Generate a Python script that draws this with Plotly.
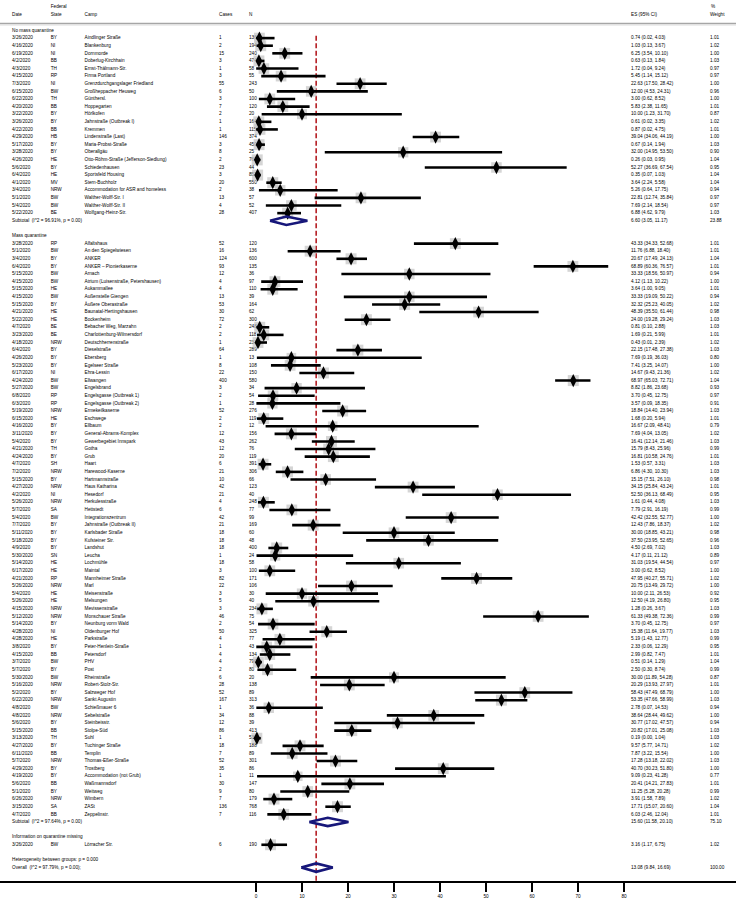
import plotly.graph_objects as go

# ---------------- data ----------------
group_titles = ["No mass quarantine", "Mass quarantine", "Information on quarantine missing"]

dates1 = ["3/26/2020", "4/16/2020", "6/19/2020", "4/2/2020", "4/3/2020", "4/15/2020", "7/3/2020", "6/15/2020",
          "6/22/2020", "4/20/2020", "3/22/2020", "3/26/2020", "4/22/2020", "4/29/2020", "5/17/2020", "3/28/2020",
          "4/26/2020", "5/6/2020", "6/4/2020", "4/1/2020", "3/4/2020", "5/1/2020", "5/4/2020", "5/22/2020"]
states1 = ["BY", "NI", "NI", "BB", "TH", "RP", "NI", "BW", "TH", "BB", "BY", "BY", "BB", "HB", "BY", "BY",
           "HE", "BY", "HE", "MV", "NRW", "BW", "BW", "BE"]
camps1 = ["Aindlinger Straße", "Blankenburg", "Dornmorde", "Doberlug-Kirchhain", "Ernst-Thälmann-Str.",
          "Firma Portland", "Grenzdurchgangslager Friedland", "Großheppacher Heuweg", "Günthersl.",
          "Hoppegarten", "Hörlkofen", "Jahnstraße (Outbreak I)", "Kremmen", "Lindenstraße (Last)",
          "Maria-Probst-Straße", "Oberallgäu", "Otto-Röhm-Straße (Jefferson-Siedlung)", "Schiedenhausen",
          "Sportsfeld Housing", "Stern-Buchholz", "Accommodation for ASR and homeless", "Walther-Wolff-Str. I",
          "Walther-Wolff-Str. II", "Wolfgang-Heinz-Str."]
cases1 = [1, 2, 15, 3, 1, 3, 55, 6, 3, 7, 2, 1, 1, 146, 3, 8, 2, 23, 3, 20, 2, 13, 4, 28]
n1 = [136, 194, 240, 474, 58, 55, 243, 50, 100, 120, 20, 164, 115, 374, 450, 25, 767, 44, 857, 550, 38, 57, 52, 407]
es1 = [0.74, 1.03, 6.25, 0.63, 1.72, 5.45, 22.63, 12.00, 3.00, 5.83, 10.00, 0.61, 0.87, 39.04, 0.67, 32.00,
       0.26, 52.27, 0.35, 3.64, 5.26, 22.81, 7.69, 6.88]
lo1 = [0.02, 0.13, 3.54, 0.13, 0.04, 1.14, 17.50, 4.53, 0.62, 2.38, 1.23, 0.02, 0.02, 34.06, 0.14, 14.95,
       0.03, 36.69, 0.07, 2.24, 0.64, 12.74, 2.14, 4.62]
hi1 = [4.03, 3.67, 10.10, 1.84, 9.24, 15.12, 28.42, 24.31, 8.52, 11.65, 31.70, 3.35, 4.75, 44.19, 1.94, 53.50,
       0.95, 67.54, 1.03, 5.58, 17.75, 35.84, 18.54, 9.79]
w1 = [1.01, 1.02, 1.00, 1.03, 0.97, 0.97, 1.00, 0.96, 1.00, 1.01, 0.87, 1.02, 1.01, 1.00, 1.03, 0.90,
      1.04, 0.95, 1.04, 1.04, 0.94, 0.97, 0.97, 1.03]

dates2 = ["3/28/2020", "5/1/2020", "3/4/2020", "6/4/2020", "5/15/2020", "4/15/2020", "5/15/2020", "4/15/2020", "5/15/2020", "4/21/2020",
          "5/22/2020", "4/7/2020", "3/23/2020", "4/18/2020", "6/4/2020", "4/26/2020", "5/23/2020", "6/17/2020", "4/24/2020", "5/27/2020",
          "6/8/2020", "6/3/2020", "5/19/2020", "6/15/2020", "4/16/2020", "3/11/2020", "5/4/2020", "4/21/2020", "4/24/2020", "4/7/2020",
          "7/2/2020", "5/15/2020", "4/27/2020", "4/2/2020", "5/26/2020", "5/7/2020", "5/4/2020", "7/7/2020", "5/11/2020", "5/18/2020",
          "4/9/2020", "5/30/2020", "5/14/2020", "6/17/2020", "4/21/2020", "5/26/2020", "5/4/2020", "5/26/2020", "4/15/2020", "5/12/2020",
          "5/14/2020", "4/28/2020", "4/28/2020", "3/8/2020", "4/15/2020", "3/7/2020", "5/7/2020", "5/30/2020", "5/16/2020", "5/2/2020",
          "6/22/2020", "4/8/2020", "4/8/2020", "5/6/2020", "5/15/2020", "3/13/2020", "4/27/2020", "6/11/2020", "5/7/2020", "4/29/2020",
          "4/19/2020", "5/6/2020", "5/1/2020", "6/26/2020", "3/15/2020", "4/7/2020"]
states2 = ["RP", "BW", "BY", "BY", "BW", "BW", "HE", "BW", "BY", "HE",
           "HE", "BE", "BE", "NRW", "BY", "BY", "BY", "NI", "BW", "BW",
           "RP", "RP", "NRW", "HE", "BY", "BY", "BY", "TH", "BY", "SH",
           "NRW", "BY", "NRW", "NI", "NRW", "SA", "BW", "BY", "BY", "BY",
           "BY", "SN", "HE", "HE", "RP", "NRW", "HE", "HE", "NRW", "NRW",
           "BY", "NI", "HE", "BY", "BB", "BW", "BY", "BW", "NRW", "BY",
           "NRW", "BW", "NRW", "BY", "BB", "TH", "BY", "BB", "NRW", "BY",
           "BY", "BB", "BY", "NRW", "SA", "BB"]
camps2 = ["Alfaltshaus", "An den Spiegelwiesen", "ANKER", "ANKER – Pionierkaserne", "Arnach",
          "Atrium (Luisenstraße, Petershausen)", "Aukammallee", "Außenstelle Giengen", "Äußere Oberastraße", "Baunatal-Hertingshausen",
          "Bockenheim", "Bebacher Weg, Marzahn", "Charlottenburg-Wilmersdorf", "Deutschherrenstraße", "Dieselstraße",
          "Ebersberg", "Egelseer Straße", "Ehra-Lessin", "Ellwangen", "Engelsbrand",
          "Engelsgasse (Outbreak 1)", "Engelsgasse (Outbreak 2)", "Ermekeilkaserne", "Eschwege", "Ellbaum",
          "General-Abrams-Komplex", "Gewerbegebiet Innspark", "Gotha", "Grub", "Haart",
          "Harewood-Kaserne", "Hartmannstraße", "Haus Katharina", "Hesedorf", "Herkulesstraße",
          "Hettstedt", "Integrationszentrum", "Jahnstraße (Outbreak II)", "Karlsbader Straße", "Kufsteiner Str.",
          "Landshut", "Leucha", "Lochmühle", "Maintal", "Mannheimer Straße",
          "Marl", "Meisenstraße", "Melsungen", "Mevissenstraße", "Monschauer Straße",
          "Neunburg vorm Wald", "Oldenburger Hof", "Parkstraße", "Peter-Henlein-Straße", "Petersdorf",
          "PHV", "Post", "Rheinstraße", "Robert-Stolz-Str.", "Salzweger Hof",
          "Sankt Augustin", "Schießmauer 6", "Sebelstraße", "Steinbeisstr.", "Stolpe-Süd",
          "Suhl", "Tuchinger Straße", "Templin", "Thomas-Eßer-Straße", "Trostberg",
          "Accommodation (not Grub)", "Waßmannsdorf", "Weitweg", "Wimbern", "ZASt", "Zeppelinstr."]
cases2 = [52, 16, 124, 93, 12, 4, 4, 13, 53, 30,
          72, 2, 2, 1, 64, 1, 8, 22, 400, 3,
          2, 1, 52, 2, 2, 12, 43, 12, 20, 6,
          21, 10, 42, 21, 4, 6, 42, 21, 18, 18,
          18, 1, 18, 3, 82, 22, 3, 5, 3, 46,
          2, 50, 4, 1, 4, 4, 2, 6, 28, 52,
          167, 1, 34, 12, 86, 1, 18, 7, 52, 35,
          1, 30, 9, 7, 136, 7]
n2 = [120, 136, 600, 135, 36, 97, 110, 39, 164, 62,
      300, 248, 118, 233, 289, 13, 108, 150, 580, 34,
      54, 28, 276, 119, 12, 156, 262, 76, 119, 391,
      306, 66, 123, 40, 248, 77, 99, 169, 60, 48,
      400, 24, 58, 100, 171, 106, 30, 40, 234, 75,
      54, 325, 77, 43, 134, 790, 80, 20, 138, 89,
      313, 36, 88, 39, 413, 533, 188, 89, 301, 86,
      11, 147, 80, 179, 768, 116]
es2 = [43.33, 11.76, 20.67, 68.89, 33.33, 4.12, 3.64, 33.33, 32.32, 48.39,
       24.00, 0.81, 1.69, 0.43, 22.15, 7.69, 7.41, 14.67, 68.97, 8.82,
       3.70, 3.57, 18.84, 1.68, 16.67, 7.69, 16.41, 15.79, 16.81, 1.53,
       6.86, 15.15, 34.15, 52.50, 1.61, 7.79, 42.42, 12.43, 30.00, 37.50,
       4.50, 4.17, 31.03, 3.00, 47.95, 20.75, 10.00, 12.50, 1.28, 61.33,
       3.70, 15.38, 5.19, 2.33, 2.99, 0.51, 2.50, 30.00, 20.29, 58.43,
       53.35, 2.78, 38.64, 30.77, 20.82, 0.19, 9.57, 7.87, 17.28, 40.70,
       9.09, 20.41, 11.25, 3.91, 17.71, 6.03]
lo2 = [34.33, 6.88, 17.49, 60.36, 18.56, 1.13, 1.00, 19.09, 25.23, 35.50,
       19.28, 0.10, 0.21, 0.01, 17.48, 0.19, 3.25, 9.43, 65.03, 1.86,
       0.45, 0.09, 14.40, 0.20, 2.09, 4.04, 12.14, 8.43, 10.58, 0.57,
       4.30, 7.51, 25.84, 36.13, 0.44, 2.91, 32.55, 7.86, 18.85, 23.95,
       2.69, 0.11, 19.54, 0.62, 40.27, 13.49, 2.11, 4.19, 0.26, 49.38,
       0.45, 11.64, 1.43, 0.06, 0.82, 0.14, 0.30, 11.89, 13.93, 47.49,
       47.66, 0.07, 28.44, 17.02, 17.01, 0.00, 5.77, 3.22, 13.18, 30.23,
       0.23, 14.21, 5.28, 1.58, 15.07, 2.46]
hi2 = [52.68, 18.40, 24.13, 76.57, 50.97, 10.22, 9.05, 50.22, 40.05, 61.44,
       29.24, 2.88, 5.99, 2.39, 27.38, 36.03, 14.07, 21.36, 72.71, 23.68,
       12.75, 18.35, 23.94, 5.94, 48.41, 13.05, 21.46, 25.96, 24.76, 3.31,
       10.30, 26.10, 43.24, 68.49, 4.08, 16.19, 52.77, 18.37, 43.21, 52.65,
       7.02, 21.12, 44.54, 8.52, 55.71, 29.72, 26.53, 26.80, 3.67, 72.36,
       12.75, 19.77, 12.77, 12.29, 7.47, 1.29, 8.74, 54.28, 27.97, 68.79,
       58.99, 14.53, 49.62, 47.57, 25.08, 1.04, 14.71, 15.54, 22.02, 51.80,
       41.28, 27.83, 20.28, 7.89, 20.60, 12.04]
w2 = [1.01, 1.01, 1.04, 1.01, 0.94, 1.00, 1.01, 0.94, 1.02, 0.98,
      1.03, 1.03, 1.01, 1.02, 1.03, 0.80, 1.00, 1.02, 1.04, 0.93,
      0.97, 0.91, 1.03, 1.01, 0.79, 1.02, 1.03, 0.99, 1.01, 1.03,
      1.03, 0.98, 1.01, 0.95, 1.03, 0.99, 1.00, 1.02, 0.98, 0.96,
      1.03, 0.89, 0.97, 1.00, 1.02, 1.00, 0.92, 0.95, 1.03, 0.99,
      0.97, 1.03, 0.99, 0.95, 1.01, 1.04, 0.99, 0.87, 1.01, 1.00,
      1.03, 0.94, 1.00, 0.94, 1.03, 1.03, 1.02, 1.00, 1.03, 1.00,
      0.77, 1.01, 0.99, 1.02, 1.04, 1.01]

dates3 = ["3/26/2020"]
states3 = ["BW"]
camps3 = ["Lörracher Str."]
cases3 = [6]
n3 = [190]
es3 = [3.16]
lo3 = [1.17]
hi3 = [6.75]
w3 = [1.02]

sub_labels = ["Subtotal  (I^2 = 96.91%, p = 0.00)", "Subtotal  (I^2 = 97.64%, p = 0.00)"]
sub_es = [6.60, 15.60]
sub_lo = [3.05, 11.58]
sub_hi = [11.17, 20.10]
sub_w = [23.88, 75.10]

het_label = "Heterogeneity between groups: p = 0.000"
overall_label = "Overall  (I^2 = 97.79%, p = 0.00);"
overall_es, overall_lo, overall_hi, overall_w = 13.08, 9.84, 16.69, 100.00

x_ticks = [0, 10, 20, 30, 40, 50, 60, 70, 80]

# ---------------- layout geometry ----------------
W, H = 736, 905
X0_PX, X80_PX = 256.0, 624.0
UNIT = (X80_PX - X0_PX) / 80.0
def px(x):
    return (x - X0_PX) / UNIT

ROW0_PX, ROW_H = 30.5, 7.61
MB = 23
def row_of(ypx):
    return (ypx - ROW0_PX) / ROW_H

FONT = "Liberation Sans Narrow, Arial Narrow, Liberation Sans, Arial, sans-serif"
FS = 4.7

COL = dict(date=12.0, state=50.7, camp=84.5, cases=219.0, n=249.0, es=631.0, w=710.0)

# assemble rows
groups = [
    (dates1, states1, camps1, cases1, n1, es1, lo1, hi1, w1),
    (dates2, states2, camps2, cases2, n2, es2, lo2, hi2, w2),
    (dates3, states3, camps3, cases3, n3, es3, lo3, hi3, w3),
]

left_txt, left_y = [], []
st_y, st_d, st_s, st_c, st_k, st_n, st_es, st_lo, st_hi, st_w = [], [], [], [], [], [], [], [], [], []
sub_y = []
r = 0
for gi, g in enumerate(groups):
    left_txt.append(group_titles[gi]); left_y.append(r)
    r += 1
    d, s, c, k, n, e, l, h, w = g
    for i in range(len(d)):
        st_y.append(r); st_d.append(d[i]); st_s.append(s[i]); st_c.append(c[i]); st_k.append(k[i])
        st_n.append(n[i]); st_es.append(e[i]); st_lo.append(l[i]); st_hi.append(h[i]); st_w.append(w[i])
        r += 1
    if gi < len(sub_labels):
        left_txt.append(sub_labels[gi]); left_y.append(r)
        sub_y.append(r)
        r += 2
    else:
        r += 1
het_y = r
ov_y = r + 1
left_txt += [het_label, overall_label]
left_y += [het_y, ov_y]

fig = go.Figure()

def text_trace(xpx, ys, texts, size=FS):
    fig.add_trace(go.Scatter(
        x=[px(xpx)] * len(ys), y=ys, text=texts, mode="text",
        textposition="middle right", textfont=dict(family=FONT, size=size, color="black"),
        hoverinfo="skip", showlegend=False, cliponaxis=False))

# header
text_trace(COL["state"], [row_of(7.0)], ["Federal"])
text_trace(COL["w"] + 1, [row_of(7.0)], ["%"])
hy = row_of(15.0)
for key, lab in [("date", "Date"), ("state", "State"), ("camp", "Camp"), ("cases", "Cases"),
                 ("n", "N"), ("es", "ES (95% CI)"), ("w", "Weight")]:
    text_trace(COL[key], [hy], [lab])

# text columns
text_trace(COL["date"], left_y, left_txt)
text_trace(COL["date"], st_y, st_d)
text_trace(COL["state"], st_y, st_s)
text_trace(COL["camp"], st_y, st_c)
text_trace(COL["cases"], st_y, [str(v) for v in st_k])
text_trace(COL["n"], st_y, [str(v) for v in st_n])
all_es_y = st_y + sub_y + [ov_y]
all_es_txt = [f"{e:.2f} ({l:.2f}, {h:.2f})" for e, l, h in zip(st_es, st_lo, st_hi)] + \
             [f"{e:.2f} ({l:.2f}, {h:.2f})" for e, l, h in zip(sub_es, sub_lo, sub_hi)] + \
             [f"{overall_es:.2f} ({overall_lo:.2f}, {overall_hi:.2f})"]
text_trace(COL["es"], all_es_y, all_es_txt)
all_w_txt = [f"{w:.2f}" for w in st_w] + [f"{w:.2f}" for w in sub_w] + [f"{overall_w:.2f}"]
text_trace(COL["w"], all_es_y, all_w_txt)

# overall reference line
fig.add_trace(go.Scatter(
    x=[overall_es, overall_es], y=[0.7, row_of(H - MB)], mode="lines",
    line=dict(color="#B51E24", width=1.6, dash="5px,2.5px"),
    hoverinfo="skip", showlegend=False, cliponaxis=False))

# weight boxes
fig.add_trace(go.Scatter(
    x=st_es, y=st_y, mode="markers",
    marker=dict(symbol="square", size=[11.0 * (w / 1.04) ** 0.5 for w in st_w], color="#C3C3C3",
                line=dict(width=0)),
    hoverinfo="skip", showlegend=False))

# CI lines
cx, cy = [], []
for yv, l, h in zip(st_y, st_lo, st_hi):
    cx += [l, h, None]
    cy += [yv, yv, None]
fig.add_trace(go.Scatter(x=cx, y=cy, mode="lines", line=dict(color="black", width=2.6),
                         hoverinfo="skip", showlegend=False))

# point estimates
fig.add_trace(go.Scatter(
    x=st_es, y=st_y, mode="markers",
    marker=dict(symbol="diamond-tall", size=9.5, color="black", line=dict(width=0)),
    hoverinfo="skip", showlegend=False))

# pooled diamonds
HD = 0.55
for yv, e, l, h in list(zip(sub_y, sub_es, sub_lo, sub_hi)) + [(ov_y, overall_es, overall_lo, overall_hi)]:
    fig.add_trace(go.Scatter(
        x=[l, e, h, e, l], y=[yv, yv - HD, yv, yv + HD, yv], mode="lines",
        line=dict(color="#17177A", width=2.6), hoverinfo="skip", showlegend=False))

fig.update_layout(
    width=W, height=H,
    margin=dict(l=0, r=0, t=0, b=MB, pad=0),
    paper_bgcolor="white", plot_bgcolor="white",
    showlegend=False,
    hovermode=False,
    xaxis=dict(range=[px(0), px(W)], tickvals=x_ticks, ticktext=[str(t) for t in x_ticks],
               ticks="outside", ticklen=9, tickwidth=1.8, tickcolor="black",
               showgrid=False, zeroline=False, showline=False,
               tickfont=dict(family=FONT, size=FS, color="black"), fixedrange=True),
    yaxis=dict(range=[row_of(H - MB), row_of(0)], visible=False, fixedrange=True),
    shapes=[
        dict(type="line", xref="paper", yref="y", x0=0, x1=1, y0=row_of(23.3), y1=row_of(23.3),
             line=dict(color="#A6A6A6", width=1.2)),
        dict(type="line", xref="paper", yref="y", x0=0, x1=1, y0=row_of(24.9), y1=row_of(24.9),
             line=dict(color="#D0D0D0", width=1.0)),
        dict(type="line", xref="paper", yref="paper", x0=0, x1=1, y0=0, y1=0,
             line=dict(color="black", width=2.2)),
    ],
)

fig.write_html("out.html",
               config={"displayModeBar": False, "staticPlot": True},
               post_script="document.body.style.margin='0';document.body.style.overflow='hidden';")
